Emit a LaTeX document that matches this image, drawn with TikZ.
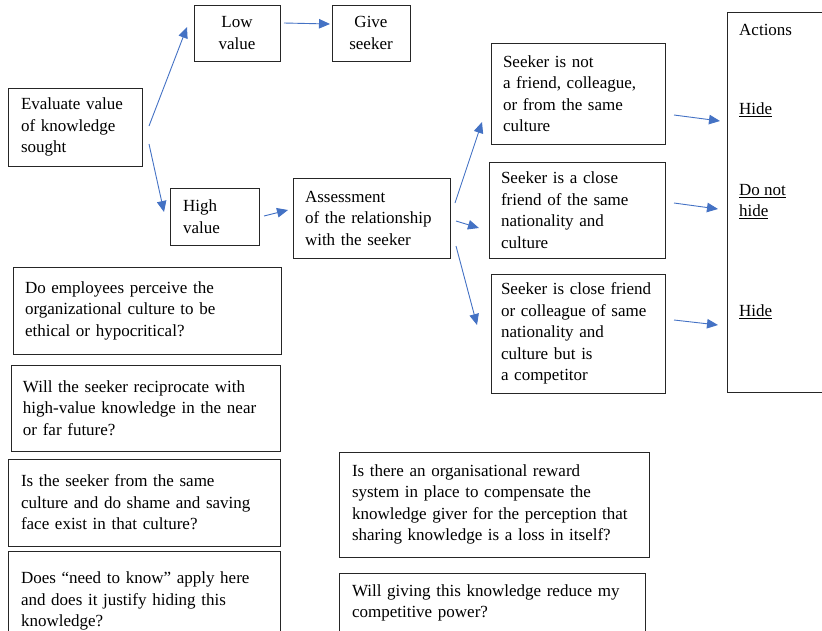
\documentclass[tikz,border=0pt]{standalone}
\usepackage{fontspec}
\setmainfont{Liberation Serif}
\usetikzlibrary{arrows.meta}
\definecolor{arrowblue}{HTML}{4472C4}
\begin{document}
\begin{tikzpicture}[x=1pt,y=-1pt,
  box/.style={draw=black!85, line width=1pt, anchor=north west, inner ysep=0pt, outer sep=0pt, align=left, font=\fontsize{17}{21.5}\selectfont},
  lbl/.style={anchor=west, inner sep=0pt, font=\fontsize{17}{21.5}\selectfont, align=left},
  flow/.style={draw=arrowblue, line width=0.9pt, -{Triangle[length=11pt,width=9.5pt]}}
]
\useasboundingbox (0,0) rectangle (822,630);

% main flow boxes
\node[box, inner xsep=13pt, text width=108pt, minimum height=78pt] (eval) at (8,88) {Evaluate value\\of knowledge\\sought};
\node[box, align=center, inner xsep=4pt, text width=78pt, minimum height=56pt] (low) at (194,5) {Low\\value};
\node[box, align=center, inner xsep=4pt, text width=70pt, minimum height=56pt] (give) at (332,5) {Give\\seeker};
\node[box, inner xsep=13pt, text width=63pt, minimum height=57pt] (high) at (170,188) {High\\value};
\node[box, inner xsep=12pt, text width=133pt, minimum height=80pt] (assess) at (293,178) {Assessment\\of the relationship\\with the seeker};
\node[box, inner xsep=12pt, text width=150pt, minimum height=101pt] (notfriend) at (491,43) {Seeker is not\\a friend, colleague,\\or from the same\\culture};
\node[box, inner xsep=12pt, text width=152pt, minimum height=96pt] (close) at (489,162) {Seeker is a close\\friend of the same\\nationality and\\culture};
\node[box, inner xsep=10pt, text width=154pt, minimum height=119pt] (comp) at (491,274) {Seeker is close friend\\or colleague of same\\nationality and\\culture but is\\a competitor};

% actions column
\node[box, minimum width=130pt, minimum height=380pt] (actions) at (727,12) {};
\node[lbl] (acttitle) at (739,30) {Actions};
\node[lbl] (hide1) at (739,110) {\underline{Hide}};
\node[lbl] (donot) at (739,201.5) {\underline{Do not}\\\underline{hide}};
\node[lbl] (hide2) at (739,312) {\underline{Hide}};

% question boxes
\node[box, inner xsep=12pt, text width=244pt, minimum height=87pt] (q1) at (13,267) {Do employees perceive the\\organizational culture to be\\ethical or hypocritical?};
\node[box, inner xsep=12pt, text width=245pt, minimum height=86pt] (q2) at (11,365) {Will the seeker reciprocate with\\high-value knowledge in the near\\or far future?};
\node[box, inner xsep=13pt, text width=246pt, minimum height=87pt] (q3) at (8,459) {Is the seeker from the same\\culture and do shame and saving\\face exist in that culture?};
\node[box, inner xsep=13pt, text width=246pt, minimum height=100pt] (q4) at (8,551) {Does “need to know” apply here\\and does it justify hiding this\\knowledge?};
\node[box, inner xsep=13pt, text width=284pt, minimum height=105pt] (q5) at (339,452) {Is there an organisational reward\\system in place to compensate the\\knowledge giver for the perception that\\sharing knowledge is a loss in itself?};
\node[box, inner xsep=13pt, text width=280pt, minimum height=60pt] (q6) at (339,573) {Will giving this knowledge reduce my\\competitive power?};

% connector end points
\coordinate (e1) at (149,126); \coordinate (l1) at (187,27);
\coordinate (e2) at (149,144); \coordinate (h1) at (164,212);
\coordinate (l2) at (284,23);  \coordinate (g1) at (330,24);
\coordinate (h2) at (264,216); \coordinate (a1) at (288,210);
\coordinate (a2) at (455,203); \coordinate (n1) at (482,122);
\coordinate (a3) at (456,221); \coordinate (c1) at (479,228);
\coordinate (a4) at (456,246); \coordinate (p1) at (477,325);
\coordinate (n2) at (674,115); \coordinate (x1) at (720,121);
\coordinate (c2) at (674,203); \coordinate (x2) at (718,209);
\coordinate (p2) at (674,320); \coordinate (x3) at (718,325);

\draw[flow] (e1) -- (l1);
\draw[flow] (e2) -- (h1);
\draw[flow] (l2) -- (g1);
\draw[flow] (h2) -- (a1);
\draw[flow] (a2) -- (n1);
\draw[flow] (a3) -- (c1);
\draw[flow] (a4) -- (p1);
\draw[flow] (n2) -- (x1);
\draw[flow] (c2) -- (x2);
\draw[flow] (p2) -- (x3);
\end{tikzpicture}
\end{document}
